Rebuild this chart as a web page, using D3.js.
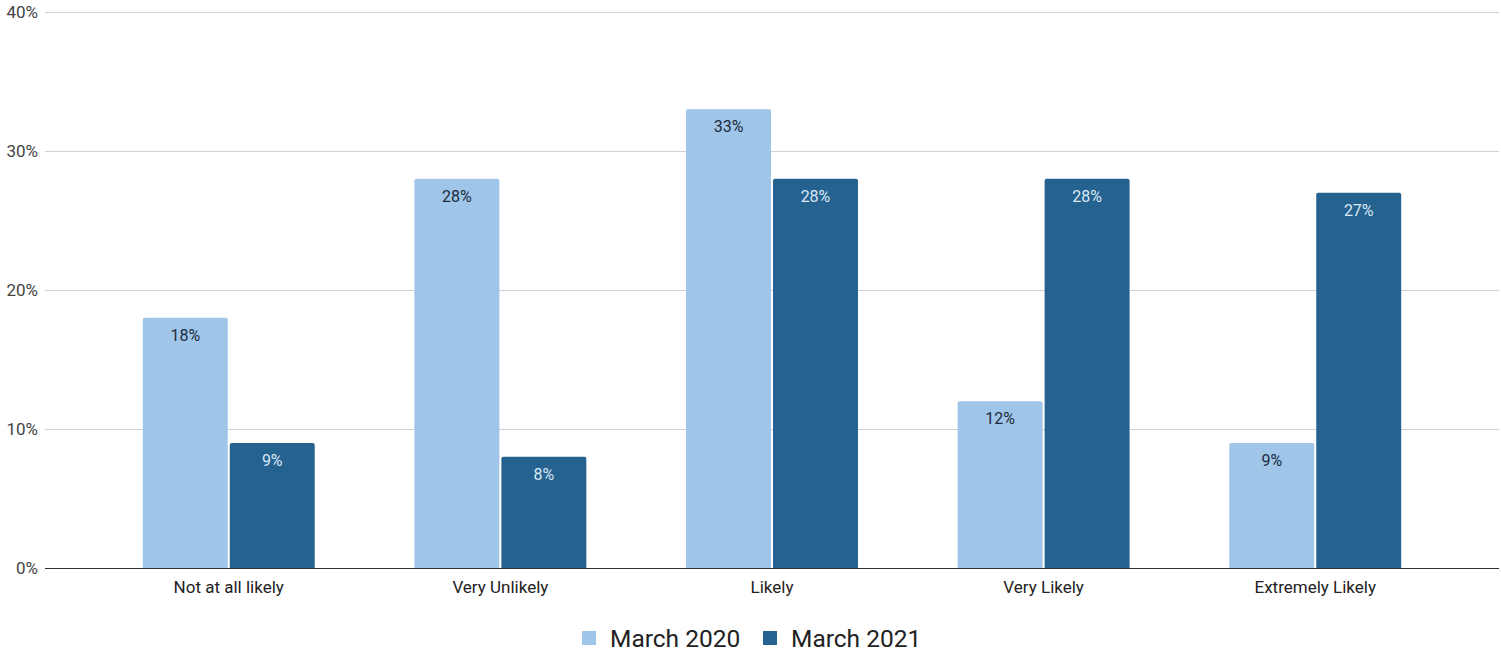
<!DOCTYPE html>
<html><head><meta charset="utf-8">
<script src="https://cdn.jsdelivr.net/npm/d3@7"></script>
<style>body{margin:0;background:#fff}svg{display:block;font-family:Roboto,Arial,sans-serif}</style>
</head><body><svg id="c" width="1501" height="654"></svg>
<script>
const categories = ["Not at all likely","Very Unlikely","Likely","Very Likely","Extremely Likely"];
const seriesNames = ["March 2020","March 2021"];
const march2020 = [18,28,33,12,9];
const march2021 = [9,8,28,28,27];
const yTicks = [0,10,20,30,40];
const colors = ["#9fc5e8","#26628f"];
const labelColors = ["#1c2b3c","#d8e8f6"];

const svg = d3.select("#c");
const L=45,R=1499,T=12,B=568;
const x = d3.scaleBand().domain(categories).range([L,R]).paddingInner(0.367).paddingOuter(0.36);
const xs = d3.scaleBand().domain(seriesNames).range([0,x.bandwidth()]).paddingInner(0.023);
const y = d3.scaleLinear().domain([0,40]).range([B,T]);

svg.append("g").selectAll("line").data(yTicks.filter(d=>d>0)).join("line")
  .attr("x1",L).attr("x2",R).attr("y1",d=>Math.round(y(d))+0.5).attr("y2",d=>Math.round(y(d))+0.5)
  .attr("stroke","#d0d0d0").attr("stroke-width",1);
svg.append("g").selectAll("text").data(yTicks).join("text")
  .attr("x",38).attr("y",d=>y(d)+6).attr("text-anchor","end")
  .attr("font-size",17).attr("fill","#444").text(d=>d+"%");

const data = [];
categories.forEach((c,i)=>{
  data.push({c,s:seriesNames[0],v:march2020[i],k:0});
  data.push({c,s:seriesNames[1],v:march2021[i],k:1});
});
function topRounded(x0,y0,w,h,r){
  return `M${x0},${y0+h}V${y0+r}Q${x0},${y0} ${x0+r},${y0}H${x0+w-r}Q${x0+w},${y0} ${x0+w},${y0+r}V${y0+h}Z`;
}
const g = svg.append("g");
g.selectAll("path").data(data).join("path")
  .attr("d",d=>{const x0=x(d.c)+xs(d.s), y0=y(d.v); return topRounded(x0,y0,xs.bandwidth(),B-y0,2);})
  .attr("fill",d=>colors[d.k]);
g.selectAll("text").data(data).join("text")
  .attr("x",d=>x(d.c)+xs(d.s)+xs.bandwidth()/2).attr("y",d=>y(d.v)+23)
  .attr("text-anchor","middle").attr("font-size",16).attr("fill",d=>labelColors[d.k])
  .text(d=>d.v+"%");

svg.append("line").attr("x1",L).attr("x2",R).attr("y1",B+0.5).attr("y2",B+0.5).attr("stroke","#333").attr("stroke-width",1);

svg.append("g").selectAll("text").data(categories).join("text")
  .attr("x",d=>x(d)+x.bandwidth()/2).attr("y",593).attr("text-anchor","middle")
  .attr("font-size",17).attr("fill","#222").text(d=>d);

const legX=[582,763];
const lg = svg.append("g");
seriesNames.forEach((s,i)=>{
  lg.append("rect").attr("x",legX[i]).attr("y",631).attr("width",14).attr("height",14).attr("fill",colors[i]);
  lg.append("text").attr("x",legX[i]+28).attr("y",647).attr("font-size",24.5).attr("fill","#222").text(s);
});
</script></body></html>
